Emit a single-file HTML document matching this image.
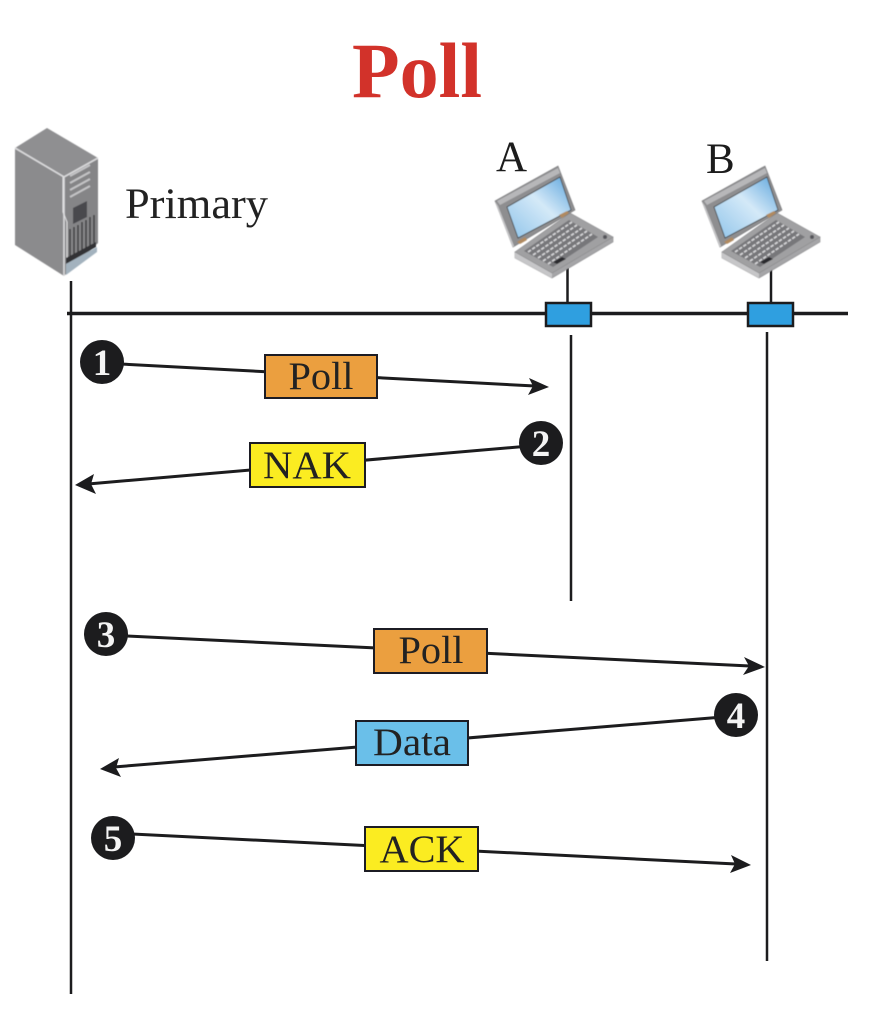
<!DOCTYPE html>
<html>
<head>
<meta charset="utf-8">
<style>
html,body{margin:0;padding:0;background:#fff;}
svg{display:block;}
text{font-family:"Liberation Serif",serif;}
</style>
</head>
<body>
<svg width="874" height="1034" viewBox="0 0 874 1034" xmlns="http://www.w3.org/2000/svg">
<defs>
<linearGradient id="scr" x1="0" y1="1" x2="1" y2="0"><stop offset="0" stop-color="#8fc4ea"/><stop offset="0.55" stop-color="#d4e9f8"/><stop offset="1" stop-color="#5da5dc"/></linearGradient>
<filter id="soft" x="-5%" y="-5%" width="110%" height="110%"><feGaussianBlur stdDeviation="0.5"/></filter>
<g id="laptop" filter="url(#soft)">
<!-- base thickness -->
<polygon points="20,86 57,107 118,71 118,76 57,112 20,92" fill="#a5a5a7" stroke="#8a8a8c" stroke-width="0.6"/>
<polygon points="20,86 57,107 57,112 20,92" fill="#c6c6c8"/>
<!-- base top -->
<polygon points="20,86 75,47 118,71 57,107" fill="#a0a0a2" stroke="#8c8c8e" stroke-width="0.6"/>
<polygon points="29,85 74,54 103,71 58,101" fill="#77777a"/>
<g stroke="#d6d6d8" stroke-width="1.7" stroke-dasharray="3.500 1.500" fill="none">
<line x1="33" y1="86" x2="77" y2="56"/>
<line x1="38" y1="89" x2="82" y2="59"/>
<line x1="43" y1="92" x2="87" y2="62"/>
<line x1="48" y1="95" x2="92" y2="65"/>
<line x1="53" y1="98" x2="97" y2="68"/>
</g>
<polygon points="58,96 67,91 71,93 62,98" fill="#2b2b2d"/>
<circle cx="110" cy="71" r="2" fill="#55555a"/>
<!-- lid -->
<polygon points="0,35 63,0 80,44 18,81" fill="#8e8e90" stroke="#747476" stroke-width="0.6"/>
<polygon points="0,35 3,40 19,80 18,81" fill="#cfcfd1"/>
<polygon points="2,35 63,2 65,7 5,39" fill="#b7b7b9"/>
<polygon points="12,41 65,11 76,44 23,72" fill="url(#scr)" stroke="#3c3c3e" stroke-width="0.8"/>
<polygon points="22,76 30,71 32,74 25,78" fill="#b08a60"/>
<polygon points="64,49 72,45 74,47 67,52" fill="#b08a60"/>
</g>
</defs>

<text x="417" y="97" text-anchor="middle" font-size="78" font-weight="bold" fill="#d2322a">Poll</text>

<!-- Server -->
<g filter="url(#soft)">
<polygon points="15,148 47,128 98,158 64,177" fill="#8f8f91"/>
<polygon points="15,148 64,177 64,276 15,245" fill="#8b8b8d"/>
<polygon points="64,177 98,158 98,243 64,276" fill="#858587"/>
<path d="M15,148 L64,177 L98,158 M64,177 L64,276" stroke="#dadadc" stroke-width="1.600" fill="none"/>
<path d="M63,177 L63,212 L67,222 L67,264" stroke="#e2e2e4" stroke-width="1" fill="none"/>
<g stroke="#c4c4c6" stroke-width="2" fill="none">
<line x1="70" y1="176" x2="90" y2="165"/>
<line x1="70" y1="183" x2="90" y2="172"/>
<line x1="70" y1="190" x2="90" y2="179"/>
<line x1="70" y1="197" x2="90" y2="186"/>
</g>
<polygon points="73,208 87,201 87,217 73,224" fill="#4a4a4d"/>
<g stroke="#2c2c2e" stroke-width="1.300">
<line x1="70" y1="229" x2="70" y2="257"/><line x1="74" y1="227" x2="74" y2="255"/><line x1="78" y1="225" x2="78" y2="253"/><line x1="82" y1="222" x2="82" y2="251"/><line x1="86" y1="220" x2="86" y2="248"/><line x1="90" y1="217" x2="90" y2="246"/><line x1="94" y1="215" x2="94" y2="243"/>
</g>
<polygon points="66,258 96,242 96,247 66,264" fill="#333336"/>
<polygon points="66,264 97,247 97,252 66,275" fill="#a3b2be"/>
</g>

<text x="125" y="218" font-size="43" fill="#222" textLength="143" lengthAdjust="spacingAndGlyphs">Primary</text>
<text x="496" y="171" font-size="43" fill="#1c1c1c">A</text>
<text x="706" y="173" font-size="43" fill="#1c1c1c">B</text>

<!-- Bus -->
<line x1="67" y1="313.500" x2="848" y2="313.500" stroke="#1c1c1e" stroke-width="3.500"/>
<line x1="567.500" y1="268" x2="567.500" y2="303" stroke="#1c1c1e" stroke-width="2.500"/>
<line x1="771" y1="268" x2="771" y2="303" stroke="#1c1c1e" stroke-width="2.500"/>
<rect x="546" y="303" width="45" height="23" fill="#2f9fe0" stroke="#1c1c1e" stroke-width="2.500"/>
<rect x="748" y="303" width="45" height="23" fill="#2f9fe0" stroke="#1c1c1e" stroke-width="2.500"/>

<use href="#laptop" x="495" y="166"/>
<use href="#laptop" x="702" y="166"/>

<!-- Verticals -->
<line x1="71" y1="281" x2="71" y2="994" stroke="#1c1c1e" stroke-width="2.500"/>
<line x1="571" y1="335" x2="571" y2="601" stroke="#1c1c1e" stroke-width="2.500"/>
<line x1="767" y1="332" x2="767" y2="961" stroke="#1c1c1e" stroke-width="2.500"/>

<!-- Arrow lines -->
<g stroke="#1c1c1e" stroke-width="3" fill="none">
<line x1="102" y1="363" x2="535" y2="386"/>
<line x1="541" y1="445" x2="88" y2="484"/>
<line x1="106" y1="635" x2="750" y2="666"/>
<line x1="735" y1="716" x2="114" y2="767"/>
<line x1="112" y1="833" x2="736" y2="864"/>
</g>
<g fill="#1c1c1e">
<polygon points="549,387 529,378 533,386 528,395"/>
<polygon points="75,485 94,474 91,484 96,494"/>
<polygon points="765,667 744,657 749,666 743,675"/>
<polygon points="100,769 119,758 116,768 121,777"/>
<polygon points="751,865 731,855 735,864 730,873"/>
</g>

<!-- Circles -->
<g fill="#1c1c1e">
<circle cx="102" cy="362" r="22"/>
<circle cx="541" cy="443" r="22"/>
<circle cx="106" cy="634" r="22"/>
<circle cx="736" cy="715" r="22"/>
<circle cx="113" cy="838" r="22"/>
</g>
<g font-size="37" font-weight="bold" fill="#f4f4f4" text-anchor="middle">
<text x="102" y="375">1</text>
<text x="541" y="456">2</text>
<text x="106" y="647">3</text>
<text x="736" y="728">4</text>
<text x="113" y="851">5</text>
</g>

<!-- Boxes -->
<g stroke="#1c1c24" stroke-width="2">
<rect x="265" y="355" width="112" height="43" fill="#eb9f3f"/>
<rect x="250" y="443" width="115" height="44" fill="#fbec21"/>
<rect x="374" y="629" width="113" height="44" fill="#eb9f3f"/>
<rect x="356" y="721" width="112" height="44" fill="#6abfe9"/>
<rect x="365" y="827" width="113" height="44" fill="#fbec21"/>
</g>
<g font-size="39" fill="#222" text-anchor="middle">
<text x="321" y="389" textLength="65" lengthAdjust="spacingAndGlyphs">Poll</text>
<text x="307" y="478" textLength="88" lengthAdjust="spacingAndGlyphs">NAK</text>
<text x="431" y="663" textLength="65" lengthAdjust="spacingAndGlyphs">Poll</text>
<text x="412" y="755" textLength="78" lengthAdjust="spacingAndGlyphs">Data</text>
<text x="422" y="862" textLength="85" lengthAdjust="spacingAndGlyphs">ACK</text>
</g>
</svg>
</body>
</html>
